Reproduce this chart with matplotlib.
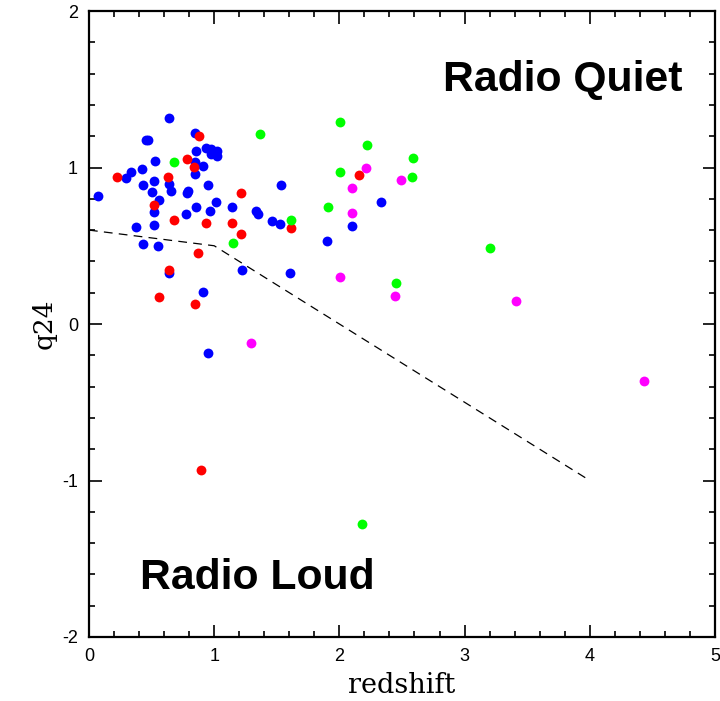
import matplotlib
matplotlib.use("Agg")
import matplotlib.pyplot as plt
from matplotlib.ticker import MultipleLocator

plt.rcParams["axes.unicode_minus"] = False

# blue sample
blue_z = [0.07, 0.64, 0.455, 0.475, 0.847, 0.934, 0.974, 1.02, 0.972, 1.02, 0.852, 0.527,
          0.847, 0.913, 0.847, 0.421, 0.335, 0.298, 0.519, 0.639, 0.431, 0.655, 0.506, 0.78,
          0.793, 0.953, 1.534, 0.559, 1.017, 0.857, 1.14, 0.517, 0.969, 1.337, 1.352, 0.772,
          1.464, 1.526, 0.373, 0.517, 0.434, 0.548, 1.225, 1.603, 0.639, 0.911, 0.95,
          2.33, 2.098, 1.901]
blue_q = [0.818, 1.314, 1.176, 1.176, 1.219, 1.127, 1.116, 1.108, 1.084, 1.073, 1.105, 1.044,
          1.037, 1.012, 0.958, 0.988, 0.971, 0.931, 0.914, 0.893, 0.886, 0.85, 0.843, 0.837,
          0.848, 0.886, 0.89, 0.79, 0.782, 0.75, 0.75, 0.714, 0.72, 0.722, 0.703, 0.703,
          0.658, 0.641, 0.618, 0.63, 0.511, 0.498, 0.343, 0.326, 0.328, 0.204, -0.185,
          0.782, 0.626, 0.532]

# red sample
red_z = [0.881, 0.785, 0.841, 0.226, 0.634, 1.217, 0.517, 0.679, 0.937, 1.142, 1.611,
         1.214, 0.871, 0.639, 0.559, 0.847, 0.895, 2.154]
red_q = [1.203, 1.054, 1.001, 0.937, 0.937, 0.837, 0.76, 0.665, 0.643, 0.647, 0.615,
         0.577, 0.454, 0.343, 0.175, 0.13, -0.933, 0.954]

# green sample
green_z = [0.676, 1.363, 2.007, 2.218, 2.588, 2.58, 2.005, 1.912, 1.611, 1.148, 3.2, 2.455, 2.18]
green_q = [1.033, 1.214, 1.289, 1.146, 1.059, 0.941, 0.971, 0.745, 0.667, 0.52, 0.488, 0.262, -1.278]

# magenta sample
mag_z = [2.212, 2.492, 2.103, 2.103, 2.002, 2.441, 3.408, 4.433, 1.293]
mag_q = [0.997, 0.92, 0.867, 0.711, 0.302, 0.179, 0.149, -0.362, -0.121]

# radio loud / quiet dividing line
div_z = [0.0, 1.0, 4.0]
div_q = [0.6, 0.5, -1.0]

fig = plt.figure(figsize=(7.2, 7.01), dpi=100)
ax = fig.add_axes([0.1236, 0.0913, 0.8694, 0.893])

ms = 50
ax.scatter(blue_z, blue_q, s=ms, color="#0000ff", linewidths=0, zorder=3)
ax.scatter(red_z, red_q, s=ms, color="#ff0000", linewidths=0, zorder=3)
ax.scatter(green_z, green_q, s=ms, color="#00ff00", linewidths=0, zorder=3)
ax.scatter(mag_z, mag_q, s=ms, color="#ff00ff", linewidths=0, zorder=3)

ax.plot(div_z, div_q, color="black", linestyle=(0, (7, 5)), linewidth=0.9)

ax.text(2.83, 1.56, "Radio Quiet", fontsize=30.8, fontweight="bold",
        family="Liberation Sans", va="center", ha="left")
ax.text(0.41, -1.62, "Radio Loud", fontsize=30.8, fontweight="bold",
        family="Liberation Sans", va="center", ha="left")

ax.set_xlim(0, 5)
ax.set_ylim(-2, 2)
ax.xaxis.set_major_locator(MultipleLocator(1))
ax.xaxis.set_minor_locator(MultipleLocator(0.2))
ax.yaxis.set_major_locator(MultipleLocator(1))
ax.yaxis.set_minor_locator(MultipleLocator(0.2))
ax.tick_params(which="both", direction="in", top=True, right=True, width=1.2,
               labelsize=13, pad=8)
ax.tick_params(which="major", length=9)
ax.tick_params(which="minor", length=4)
for lab in ax.get_xticklabels() + ax.get_yticklabels():
    lab.set_family("Liberation Sans")
for sp in ax.spines.values():
    sp.set_linewidth(1.6)

ax.set_xlabel("redshift", family="DejaVu Serif", fontsize=19.5, labelpad=5)
ax.set_ylabel("q24", family="DejaVu Serif", fontsize=19, labelpad=4)

fig.savefig("out.png", dpi=100)
